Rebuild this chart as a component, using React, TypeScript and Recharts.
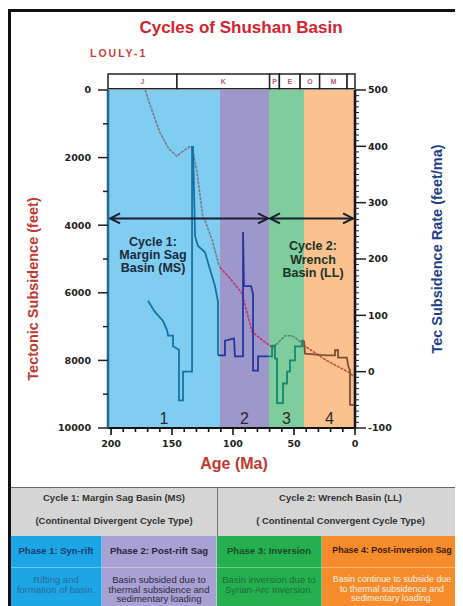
import React from "react";
import { ComposedChart, Line, XAxis, YAxis, ReferenceArea, ReferenceLine } from "recharts";

// phases of the basin (ages in Ma, oldest first)
const phaseStart = [202.5, 110.7, 70.5, 41.8];
const phaseEnd = [110.7, 70.5, 41.8, 0];
const phaseNumbers = ["1", "2", "3", "4"];
const phaseFill = ["#80cdf1", "#9d97cc", "#7fcc9c", "#fbc18f"];
const rateColors = ["#1672a4", "#26379a", "#13896f", "#7d5034"];
const subsidenceColors = ["#727d89", "#c2336b", "#5c836a", "#cb4a3b"];

// stratigraphic column along the top
const periodNames = ["J", "K", "P", "E", "O", "M", ""];
const periodStart = [202.5, 146, 70, 62, 45, 29, 6.5];
const periodEnd = [146, 70, 62, 45, 29, 6.5, 0];

// tectonic subsidence (feet) vs age
const subsidenceAge = [172, 168, 160, 153, 146, 142, 135, 133.5, 129.5, 124.6, 123, 117, 112, 110.7, 101.6, 92.6, 84.4, 75.4, 67.2, 63.1, 57.4, 51.6, 43.4, 42.6, 23, 4, 1.6];
const subsidenceFeet = [0, 450, 1250, 1720, 1960, 1840, 1660, 1700, 2430, 3800, 3860, 4450, 5130, 5250, 5610, 6020, 7150, 7420, 7630, 7480, 7270, 7270, 7480, 7540, 8010, 8370, 8460];

// tectonic subsidence rate (feet/Ma) vs age
const rateAge = [169.7, 164, 157.4, 154, 153.3, 149.2, 149.2, 144.3, 144.3, 141, 141, 133.6, 133.6, 132.8, 131.1, 128.7, 123, 118.9, 114.8, 112.3, 112.3, 106.6, 106.6, 99.2, 98.4, 91.8, 91.8, 91, 85.2, 83.6, 83.6, 79.5, 79.5, 71.3, 68, 68, 65.6, 65.6, 63.9, 63.9, 59, 59, 55.7, 55.7, 53.3, 53.3, 49.2, 49.2, 43.4, 43.4, 41.8, 41, 23, 16.4, 16.4, 13.9, 13.9, 6.6, 5.7, 4.1, 4.1, 0.8];
const rateFeet = [126, 106, 90, 73, 64, 64, 45, 39, -51, -51, 0, 0, 399, 399, 240, 223, 212, 182, 152, 124, 29, 29, 55, 59, 27, 27, 248, 152, 152, 138, 2, 2, 27, 27, 27, 46, 46, 23, 23, -56, -56, -21, -21, 0, 0, 20, 20, 45, 45, 55, 55, 32, 29, 29, 38, 38, 25, 25, 11, 2, -59, -59];

const ageTicks = [200, 190, 180, 170, 160, 150, 140, 130, 120, 110, 100, 90, 80, 70, 60, 50, 40, 30, 20, 10, 0];
const depthTicks = [0, 1000, 2000, 3000, 4000, 5000, 6000, 7000, 8000, 9000, 10000];
const rateTicks = [
  -100, -90, -80, -70, -60, -50, -40, -30, -20, -10, 0, 10, 20, 30, 40, 50, 60, 70, 80, 90, 100,
  110, 120, 130, 140, 150, 160, 170, 180, 190, 200, 210, 220, 230, 240, 250, 260, 270, 280, 290, 300,
  310, 320, 330, 340, 350, 360, 370, 380, 390, 400, 410, 420, 430, 440, 450, 460, 470, 480, 490, 500,
];

const cycleTitles = ["Cycle 1: Margin Sag Basin (MS)", "Cycle 2: Wrench Basin (LL)"];
const cycleTypes = ["(Continental Divergent Cycle Type)", "( Continental Convergent Cycle Type)"];
const phaseTitles = ["Phase 1: Syn-rift", "Phase 2: Post-rift Sag", "Phase 3: Inversion", "Phase 4: Post-inversion Sag"];
const phaseNotes = [
  ["Rifting and", "formation of basin."],
  ["Basin subsided due to", "thermal subsidence and", "sedimentary loading"],
  ["Basin inversion due to", "Syrian-Arc Inversion."],
  ["Basin continue to subside due", "to thermal subsidence and", "sedimentary loading."],
];
const cellWidth = [91, 115, 105, 141];
const cellFill = ["#1ca6e6", "#a9a0d3", "#24b04f", "#f58b2b"];
const titleInk = ["#1c3b6c", "#26263a", "#1d4a2a", "#3a1c05"];
const noteInk = ["#2b6a98", "#2c2c3a", "#1f6a3a", "#fff1e0"];

const SANS = "'Liberation Sans', Arial, sans-serif";
const TICK_FONT = "'DejaVu Sans', sans-serif";

type Pt = { age: number; v: number };

// give each segment the colour of the phase it sits in
function splitByPhase(ages: number[], values: number[]): Pt[][] {
  const segs: Pt[][] = phaseStart.map(() => []);
  for (let i = 0; i < ages.length - 1; i++) {
    const mid = (ages[i] + ages[i + 1]) / 2;
    const k = phaseStart.findIndex((s, j) => mid <= s && mid >= phaseEnd[j]);
    const seg = segs[k];
    const last = seg[seg.length - 1];
    if (!last || last.age !== ages[i] || last.v !== values[i]) seg.push({ age: ages[i], v: values[i] });
    seg.push({ age: ages[i + 1], v: values[i + 1] });
  }
  return segs;
}

const subsidenceSegs = splitByPhase(subsidenceAge, subsidenceFeet);
const rateSegs = splitByPhase(rateAge, rateFeet);

const XTick = (p: any) => {
  const major = p.payload.value % 50 === 0;
  return (
    <g>
      <line x1={p.x} x2={p.x} y1={p.y} y2={p.y + (major ? 7 : 4)} stroke="#111" strokeWidth={1.6} />
      {major && (
        <text x={p.x} y={p.y + 16} dy="0.35em" textAnchor="middle" fontSize={9.5} fontWeight={700} fontFamily={TICK_FONT} fill="#222">
          {p.payload.value}
        </text>
      )}
    </g>
  );
};

const LeftTick = (p: any) => {
  const major = p.payload.value % 2000 === 0;
  return (
    <g>
      <line x1={p.x - (major ? 10 : 5)} x2={p.x} y1={p.y} y2={p.y} stroke="#222" strokeWidth={1.5} />
      {major && (
        <text x={p.x - 17} y={p.y} dy="0.35em" textAnchor="end" fontSize={9.5} fontWeight={700} fontFamily={TICK_FONT} fill="#222">
          {p.payload.value}
        </text>
      )}
    </g>
  );
};

const RightTick = (p: any) => {
  const major = p.payload.value % 100 === 0;
  return (
    <g>
      <line x1={p.x} x2={p.x + (major ? 11 : 4)} y1={p.y} y2={p.y} stroke="#222" strokeWidth={major ? 1.5 : 1} />
      {major && (
        <text x={p.x + 13} y={p.y} dy="0.35em" textAnchor="start" fontSize={9.5} fontWeight={700} fontFamily={TICK_FONT} fill="#222">
          {p.payload.value}
        </text>
      )}
    </g>
  );
};

const DoubleArrow = (p: any) => {
  const { x1, y1, x2, y2 } = p;
  const dir = x2 > x1 ? 1 : -1;
  const h = 10;
  const w = 5;
  return (
    <g stroke="#1a1f30" strokeWidth={2} fill="none">
      <line x1={x1} y1={y1} x2={x2} y2={y2} />
      <polyline points={`${x1 + dir * h},${y1 - w} ${x1},${y1} ${x1 + dir * h},${y1 + w}`} />
      <polyline points={`${x2 - dir * h},${y2 - w} ${x2},${y2} ${x2 - dir * h},${y2 + w}`} />
    </g>
  );
};

export default function App() {
  return (
    <div style={{ position: "relative", width: 455, height: 598, fontFamily: SANS, background: "#fff" }}>
      <ComposedChart width={455} height={470} margin={{ top: 82, right: 48, bottom: 20, left: 40 }} style={{ position: "absolute", left: 0, top: 0 }}>
        <XAxis
          xAxisId="age"
          type="number"
          dataKey="age"
          domain={[0, 202.5]}
          reversed
          allowDataOverflow
          ticks={ageTicks}
          interval={0}
          tick={XTick}
          tickLine={false}
          tickSize={0}
          tickMargin={0}
          height={30}
          axisLine={{ stroke: "#111", strokeWidth: 2 }}
        />
        <YAxis
          yAxisId="left"
          type="number"
          domain={[0, 10000]}
          reversed
          allowDataOverflow
          ticks={depthTicks}
          interval={0}
          tick={LeftTick}
          tickLine={false}
          tickSize={0}
          tickMargin={0}
          width={60}
          axisLine={{ stroke: "#1d6d8a", strokeWidth: 2.5 }}
        />
        <YAxis
          yAxisId="right"
          orientation="right"
          type="number"
          domain={[-100, 500]}
          allowDataOverflow
          ticks={rateTicks}
          interval={0}
          tick={RightTick}
          tickLine={false}
          tickSize={0}
          tickMargin={0}
          width={60}
          axisLine={{ stroke: "#111", strokeWidth: 2.5 }}
        />

        {phaseStart.map((s, i) => (
          <ReferenceArea
            key={"phase" + i}
            xAxisId="age"
            yAxisId="left"
            x1={s}
            x2={phaseEnd[i]}
            y1={0}
            y2={10000}
            fill={phaseFill[i]}
            fillOpacity={1}
            stroke="none"
            ifOverflow="visible"
            label={{ value: phaseNumbers[i], position: "insideBottom", offset: 4, fontSize: 16, fill: "#2b2b2b", fontFamily: SANS }}
          />
        ))}

        {periodNames.map((n, i) => (
          <ReferenceArea
            key={"period" + i}
            xAxisId="age"
            yAxisId="left"
            x1={periodStart[i]}
            x2={periodEnd[i]}
            y1={-470}
            y2={-40}
            fill="#fff"
            fillOpacity={1}
            stroke="#222"
            strokeWidth={1.5}
            ifOverflow="visible"
            label={{ value: n, position: "center", fontSize: 7, fontWeight: 700, fill: "#c2537a", fontFamily: SANS }}
          />
        ))}

        {subsidenceSegs.map((seg, i) => (
          <Line
            key={"sub" + i}
            xAxisId="age"
            yAxisId="left"
            data={seg}
            dataKey="v"
            type="linear"
            stroke={subsidenceColors[i]}
            strokeWidth={1.6}
            strokeDasharray="3 1"
            dot={false}
            activeDot={false}
            isAnimationActive={false}
          />
        ))}

        {rateSegs.map((seg, i) => (
          <Line
            key={"rate" + i}
            xAxisId="age"
            yAxisId="right"
            data={seg}
            dataKey="v"
            type="linear"
            stroke={rateColors[i]}
            strokeWidth={1.8}
            dot={false}
            activeDot={false}
            isAnimationActive={false}
          />
        ))}

        <ReferenceLine
          xAxisId="age"
          yAxisId="left"
          segment={[{ x: 200.8, y: 3800 }, { x: 71.3, y: 3800 }]}
          shape={DoubleArrow}
          ifOverflow="visible"
        />
        <ReferenceLine
          xAxisId="age"
          yAxisId="left"
          segment={[{ x: 69.7, y: 3800 }, { x: 1.6, y: 3800 }]}
          shape={DoubleArrow}
          ifOverflow="visible"
        />
      </ComposedChart>

      <svg width={455} height={598} style={{ position: "absolute", left: 0, top: 0, pointerEvents: "none" }} fontFamily={SANS}>
        <text x={233} y={19} textAnchor="middle" dominantBaseline="central" fontSize={17} fontWeight={700} fill="#d3232d">
          Cycles of Shushan Basin
        </text>
        <text x={82} y={45} dominantBaseline="central" fontSize={10.5} fontWeight={700} letterSpacing={2} fill="#c9413a">
          LOULY-1
        </text>
        <text x={25} y={281} transform="rotate(-90 25 281)" textAnchor="middle" dominantBaseline="central" fontSize={14.5} fontWeight={700} fill="#c0392b">
          Tectonic Subsidence (feet)
        </text>
        <text x={429} y={241} transform="rotate(-90 429 241)" textAnchor="middle" dominantBaseline="central" fontSize={14.5} fontWeight={700} fill="#1e3f8a">
          Tec Subsidence Rate (feet/ma)
        </text>
        <text x={226} y={455} textAnchor="middle" dominantBaseline="central" fontSize={16} fontWeight={700} fill="#c0392b">
          Age (Ma)
        </text>
        {["Cycle 1:", "Margin Sag", "Basin (MS)"].map((t, i) => (
          <text key={t} x={145} y={234 + i * 13} textAnchor="middle" dominantBaseline="central" fontSize={12.5} fontWeight={700} fill="#1b2a3c">
            {t}
          </text>
        ))}
        {["Cycle 2:", "Wrench", "Basin (LL)"].map((t, i) => (
          <text key={t} x={305} y={238 + i * 13.5} textAnchor="middle" dominantBaseline="central" fontSize={12.5} fontWeight={700} fill="#1d3327">
            {t}
          </text>
        ))}
      </svg>

      {/* outer frame */}
      <div style={{ position: "absolute", left: 0, top: 1, width: 455, height: 3, background: "#111" }} />
      <div style={{ position: "absolute", left: 0, top: 1, width: 3, height: 597, background: "#111" }} />

      {/* phase table */}
      <div style={{ position: "absolute", left: 3, top: 479, width: 452, height: 119, fontFamily: SANS, overflow: "hidden" }}>
        <div style={{ display: "flex", height: 48, background: "#d5d5d5", borderTop: "1px solid #666" }}>
          {cycleTitles.map((t, i) => (
            <div
              key={t}
              style={{
                width: i === 0 ? 206 : 246,
                borderLeft: i === 1 ? "1px solid #777" : "none",
                textAlign: "center",
                fontSize: 9.5,
                fontWeight: 700,
                color: "#333",
                lineHeight: "12px",
                paddingTop: 4,
                boxSizing: "border-box",
              }}
            >
              <div>{t}</div>
              <div style={{ marginTop: 11 }}>{cycleTypes[i]}</div>
            </div>
          ))}
        </div>
        <div style={{ display: "flex", height: 32 }}>
          {phaseTitles.map((t, i) => (
            <div
              key={t}
              style={{
                width: cellWidth[i],
                background: cellFill[i],
                color: titleInk[i],
                fontSize: i === 3 ? 8.9 : 9.5,
                fontWeight: 700,
                whiteSpace: "nowrap",
                display: "flex",
                alignItems: "center",
                justifyContent: "center",
                borderRight: "1px solid rgba(255,255,255,0.35)",
                borderBottom: "1px solid rgba(255,255,255,0.35)",
                boxSizing: "border-box",
                paddingBottom: 3,
              }}
            >
              {t}
            </div>
          ))}
        </div>
        <div style={{ display: "flex", height: 39 }}>
          {phaseNotes.map((lines, i) => (
            <div
              key={i}
              style={{
                width: cellWidth[i],
                background: cellFill[i],
                color: noteInk[i],
                fontSize: i === 3 ? 8.9 : 9.5,
                lineHeight: "9.5px",
                textAlign: "center",
                whiteSpace: "nowrap",
                paddingTop: 7,
                borderRight: "1px solid rgba(255,255,255,0.35)",
                boxSizing: "border-box",
              }}
            >
              {lines.map((l) => (
                <div key={l}>{l}</div>
              ))}
            </div>
          ))}
        </div>
      </div>
    </div>
  );
}
